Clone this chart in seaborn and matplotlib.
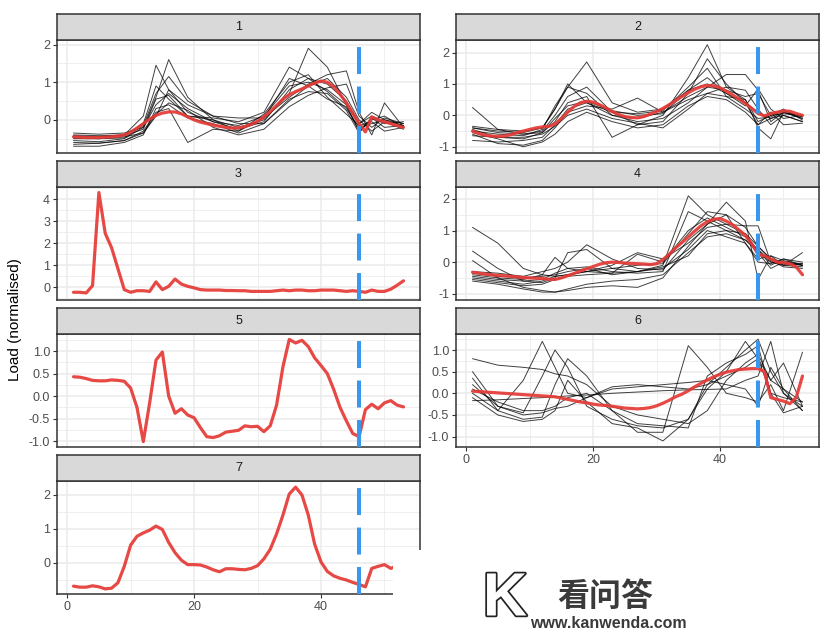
import numpy as np
import pandas as pd
import matplotlib.pyplot as plt
import matplotlib.patheffects as pe
from matplotlib.patches import Rectangle
import seaborn as sns

OUTPUT_FILE = "out.png"

# x positions: every day for the mean curves, sparser for the individual traces
X = list(range(1, 54))
X_TRACE = [1, 5, 9, 12, 14, 16, 19, 23, 27, 31, 35, 38, 41, 44, 46, 48, 50, 53]
CHANGE_X = 46

mean_1 = [-0.45, -0.46, -0.47, -0.47, -0.47, -0.46, -0.45, -0.43, -0.40, -0.33,
          -0.22, -0.10, 0.02, 0.12, 0.18, 0.21, 0.21, 0.16, 0.08, 0.00,
          -0.06, -0.10, -0.14, -0.17, -0.20, -0.22, -0.21, -0.18, -0.12, -0.04,
          0.08, 0.22, 0.38, 0.55, 0.67, 0.75, 0.82, 0.90, 0.98, 1.03,
          1.00, 0.88, 0.68, 0.45, 0.18, -0.10, -0.32, 0.08, 0.00, -0.05,
          -0.10, -0.15, -0.20]
mean_2 = [-0.50, -0.58, -0.63, -0.66, -0.67, -0.66, -0.62, -0.55, -0.50, -0.45,
          -0.40, -0.37, -0.35, -0.28, -0.10, 0.10, 0.28, 0.40, 0.45, 0.42,
          0.34, 0.24, 0.12, 0.03, -0.04, -0.07, -0.08, -0.04, 0.04, 0.12,
          0.22, 0.34, 0.47, 0.60, 0.72, 0.83, 0.91, 0.95, 0.94, 0.88,
          0.77, 0.65, 0.52, 0.38, 0.22, 0.06, -0.02, 0.06, 0.10, 0.14,
          0.13, 0.06, 0.00]
mean_3 = [-0.22, -0.22, -0.25, 0.08, 4.30, 2.45, 1.80, 0.85, -0.10, -0.22,
          -0.15, -0.15, -0.18, 0.25, -0.10, 0.05, 0.38, 0.15, 0.05, -0.02,
          -0.10, -0.12, -0.12, -0.12, -0.14, -0.14, -0.15, -0.15, -0.18, -0.18,
          -0.18, -0.18, -0.15, -0.12, -0.15, -0.12, -0.12, -0.15, -0.15, -0.12,
          -0.12, -0.12, -0.15, -0.18, -0.15, -0.18, -0.22, -0.12, -0.18, -0.18,
          -0.08, 0.10, 0.30]
mean_4 = [-0.32, -0.35, -0.38, -0.40, -0.42, -0.43, -0.45, -0.47, -0.49, -0.50,
          -0.51, -0.52, -0.54, -0.55, -0.50, -0.43, -0.36, -0.28, -0.21, -0.14,
          -0.07, -0.02, 0.00, -0.01, -0.03, -0.04, -0.05, -0.06, -0.08, -0.05,
          0.08, 0.25, 0.45, 0.62, 0.80, 0.98, 1.15, 1.28, 1.36, 1.38,
          1.30, 1.18, 1.02, 0.84, 0.58, 0.25, 0.20, 0.10, 0.00, -0.02,
          -0.05, -0.15, -0.40]
mean_5 = [0.43, 0.42, 0.39, 0.35, 0.34, 0.34, 0.36, 0.35, 0.33, 0.18,
          -0.25, -1.01, -0.15, 0.80, 0.98, 0.00, -0.38, -0.28, -0.42, -0.48,
          -0.70, -0.90, -0.92, -0.88, -0.80, -0.78, -0.76, -0.66, -0.68, -0.67,
          -0.79, -0.66, -0.20, 0.65, 1.26, 1.18, 1.24, 1.10, 0.85, 0.68,
          0.50, 0.15, -0.25, -0.55, -0.83, -0.90, -0.30, -0.18, -0.28, -0.15,
          -0.10, -0.20, -0.24]
mean_6 = [0.05, 0.04, 0.03, 0.02, 0.01, 0.00, -0.01, -0.02, -0.03, -0.04,
          -0.05, -0.06, -0.07, -0.08, -0.11, -0.14, -0.17, -0.20, -0.22, -0.25,
          -0.27, -0.28, -0.30, -0.32, -0.34, -0.35, -0.36, -0.35, -0.33, -0.29,
          -0.23, -0.16, -0.08, -0.02, 0.06, 0.15, 0.23, 0.31, 0.38, 0.44,
          0.49, 0.52, 0.55, 0.56, 0.57, 0.57, 0.50, -0.10, -0.14, -0.18,
          -0.24, -0.10, 0.40]
mean_7 = [-0.68, -0.71, -0.71, -0.67, -0.70, -0.76, -0.74, -0.58, -0.10, 0.52,
          0.78, 0.88, 0.96, 1.08, 0.98, 0.60, 0.30, 0.08, -0.05, -0.05,
          -0.06, -0.12, -0.20, -0.26, -0.17, -0.17, -0.19, -0.20, -0.16, -0.08,
          0.12, 0.40, 0.85, 1.40, 2.02, 2.22, 1.99, 1.40, 0.55, 0.03,
          -0.25, -0.38, -0.45, -0.50, -0.57, -0.63, -0.70, -0.16, -0.10, -0.05,
          -0.16, -0.08, -0.10]

traces_1 = [
    [-0.40, -0.42, -0.40, 0.10, 1.45, 0.80, 0.20, -0.05, -0.15, 0.10, 0.90, 1.00, 0.80, 0.40, -0.10, 0.10, -0.05, -0.15],
    [-0.55, -0.58, -0.50, -0.20, 0.60, 1.60, 0.60, 0.00, -0.20, 0.00, 0.70, 1.90, 1.40, 0.40, -0.30, 0.00, 0.10, -0.20],
    [-0.45, -0.45, -0.40, -0.10, 0.90, 0.55, 0.10, 0.05, -0.05, 0.20, 1.40, 1.10, 0.75, 0.30, -0.20, -0.10, 0.00, -0.10],
    [-0.70, -0.70, -0.60, -0.40, 0.30, 0.40, 0.05, -0.10, -0.35, -0.10, 0.50, 0.90, 1.10, 0.60, 0.00, -0.30, -0.05, -0.25],
    [-0.35, -0.38, -0.35, -0.20, 0.40, 0.70, 0.30, -0.05, -0.25, -0.05, 0.80, 1.10, 0.95, 0.50, -0.10, 0.20, 0.00, -0.15],
    [-0.60, -0.62, -0.55, -0.30, 0.20, 0.30, -0.60, -0.25, -0.30, 0.05, 0.60, 0.95, 1.20, 1.30, 0.20, -0.40, 0.45, -0.20],
    [-0.50, -0.50, -0.45, -0.35, 0.10, 0.80, 0.40, 0.10, -0.10, -0.10, 0.55, 0.75, 0.70, 0.25, -0.35, 0.05, -0.10, -0.05],
    [-0.42, -0.45, -0.42, -0.25, 0.55, 0.65, 0.10, 0.00, -0.30, 0.15, 1.00, 1.20, 0.60, 0.15, -0.15, -0.05, -0.30, -0.20],
    [-0.65, -0.62, -0.55, -0.35, 0.15, 0.45, 0.25, -0.20, -0.40, -0.25, 0.35, 0.65, 0.85, 0.95, 0.10, -0.20, 0.05, -0.10],
    [-0.48, -0.50, -0.48, -0.15, 0.70, 1.15, 0.50, 0.10, 0.05, 0.05, 1.10, 0.90, 0.55, 0.35, -0.30, 0.05, -0.20, -0.15],
]
traces_2 = [
    [0.25, -0.45, -0.50, -0.40, 0.20, 0.90, 1.70, 0.40, 0.10, 0.20, 0.80, 1.20, 0.70, 0.40, 0.10, -0.10, 0.10, -0.10],
    [-0.45, -0.70, -0.75, -0.55, -0.20, 0.40, 0.60, -0.70, -0.30, 0.00, 1.20, 2.25, 0.90, 0.50, -0.20, 0.00, 0.05, 0.00],
    [-0.60, -0.90, -0.95, -0.80, -0.40, 0.10, 0.30, 0.20, 0.55, 0.10, 0.60, 0.90, 1.30, 1.30, 0.80, -0.20, 0.10, -0.05],
    [-0.40, -0.55, -0.60, -0.50, 0.00, 0.60, 0.90, 0.10, -0.30, -0.20, 0.70, 1.80, 1.00, 0.40, -0.30, -0.10, 0.00, -0.20],
    [-0.80, -0.85, -0.80, -0.70, -0.30, 0.20, 0.40, 0.00, -0.10, 0.10, 0.50, 0.70, 0.60, 0.50, -0.40, -0.75, 0.10, -0.10],
    [-0.50, -0.60, -0.65, -0.45, 0.30, 0.90, 0.70, 0.00, -0.20, -0.10, 0.40, 0.90, 0.80, 0.60, 0.70, 0.00, 0.20, -0.15],
    [-0.35, -0.45, -0.60, -0.55, -0.10, 0.30, 0.45, 0.15, 0.00, 0.05, 0.80, 1.00, 0.70, 0.30, 0.85, 0.20, -0.10, 0.00],
    [-0.55, -0.75, -1.00, -0.85, -0.60, -0.20, 0.10, -0.20, -0.40, -0.30, 0.30, 0.60, 0.50, 0.10, -0.30, 0.10, -0.30, -0.25],
    [-0.40, -0.50, -0.55, -0.40, 0.20, 1.00, 0.40, 0.10, 0.05, 0.15, 0.90, 1.50, 0.60, 0.20, -0.10, -0.05, 0.15, -0.05],
    [-0.65, -0.70, -0.70, -0.60, -0.35, 0.00, 0.20, -0.10, -0.25, -0.40, 0.20, 0.70, 0.90, 0.80, 0.20, -0.30, 0.00, -0.20],
]
traces_4 = [
    [1.10, 0.60, -0.20, -0.40, -0.45, -0.40, -0.30, -0.20, -0.10, -0.05, 0.90, 1.60, 1.50, 1.10, 0.50, 0.10, 0.00, -0.10],
    [0.35, -0.20, -0.60, -0.65, -0.50, 0.30, 0.40, -0.20, -0.30, -0.10, 2.10, 1.50, 1.20, 0.90, 0.30, 0.00, -0.10, 0.30],
    [0.05, -0.50, -0.80, -0.90, -0.95, -0.90, -0.80, -0.75, -0.80, -0.50, 0.50, 1.20, 1.90, 1.30, -0.55, 0.20, -0.10, -0.05],
    [-0.40, -0.50, -0.55, -0.40, 0.15, -0.20, -0.30, -0.35, 0.25, 0.00, 1.00, 1.40, 1.10, 0.80, 0.40, -0.10, 0.10, 0.00],
    [-0.50, -0.60, -0.70, -0.60, -0.45, -0.40, -0.30, -0.10, 0.30, 0.10, 0.60, 1.10, 1.20, 1.15, 1.15, 0.00, -0.05, -0.10],
    [-0.35, -0.45, -0.50, -0.45, -0.40, -0.30, -0.20, -0.40, -0.30, -0.20, 0.40, 1.00, 0.80, 0.60, 0.10, 0.20, 0.05, -0.10],
    [-0.60, -0.70, -0.85, -0.95, -0.95, -0.85, -0.70, -0.60, -0.55, -0.40, 0.30, 0.80, 0.90, 0.70, 0.30, -0.20, 0.00, -0.05],
    [-0.45, -0.55, -0.60, -0.55, -0.35, -0.20, -0.15, -0.30, -0.35, -0.30, 1.60, 1.30, 1.00, 0.90, 0.50, 0.10, -0.10, -0.15],
    [-0.30, -0.35, -0.45, -0.30, -0.20, 0.00, 0.55, 0.10, -0.20, -0.25, 0.70, 1.20, 1.50, 0.60, 0.00, -0.05, 0.10, -0.10],
    [-0.55, -0.65, -0.75, -0.70, -0.55, -0.45, -0.40, -0.35, -0.30, -0.15, 0.20, 0.90, 1.00, 0.70, 0.40, 0.05, -0.15, -0.20],
]
traces_6 = [
    [0.80, 0.65, 0.60, 0.55, 0.45, 0.40, 0.20, -0.30, -0.50, -0.60, -0.70, -0.40, 0.30, 0.70, 0.90, 0.30, 0.10, -0.20],
    [0.50, -0.30, -0.45, 0.40, 1.00, 0.60, -0.30, -0.60, -0.75, -0.80, -0.60, 0.20, 0.60, 1.00, 1.25, 0.50, 0.00, -0.40],
    [0.35, -0.40, 0.30, 1.20, 0.60, 0.00, -0.10, 0.15, 0.20, 0.15, 0.10, 0.20, 0.40, 0.60, 0.80, 0.30, 0.70, -0.30],
    [-0.17, -0.15, -0.12, -0.10, -0.08, -0.06, -0.04, 0.00, 0.03, 0.06, 0.08, 0.09, 0.10, 0.30, 0.40, 1.20, 0.00, -0.30],
    [0.00, -0.40, -0.60, -0.55, 0.20, 0.80, 0.40, -0.40, -0.90, -0.90, 1.10, 0.60, 0.00, -0.10, -0.20, 0.20, -0.40, 0.95],
    [-0.10, -0.50, -0.65, -0.60, -0.40, 0.30, -0.20, -0.70, -0.80, -1.10, -0.60, 0.10, 0.50, 1.20, 0.80, 0.00, -0.45, -0.30],
    [0.20, -0.30, -0.50, -0.45, -0.35, -0.30, -0.10, 0.10, 0.15, 0.20, 0.25, 0.30, 0.20, 0.10, -0.30, 0.60, 0.10, -0.40],
    [0.10, -0.20, -0.40, -0.40, -0.30, -0.10, 0.00, -0.40, -0.70, -0.75, -0.80, 0.40, 0.70, 0.90, 1.10, 0.00, -0.10, -0.20],
]

means = {1: mean_1, 2: mean_2, 3: mean_3, 4: mean_4, 5: mean_5, 6: mean_6, 7: mean_7}
traces = {1: traces_1, 2: traces_2, 4: traces_4, 6: traces_6}

# layout (pixels, top-left origin) -- mimics the ggplot facet_wrap grid
W, H = 828, 636
COL_X = [57, 456]
PANEL_W = 363
ROW_TOP = [14, 161, 308, 455]
STRIP_H = 26
PLOT_H = 113

# panel -> (col, row, ylim, y breaks, label format)
panels = {
    1: (0, 0, (-0.88, 2.12), [0, 1, 2], "{:g}"),
    2: (1, 0, (-1.20, 2.40), [-1, 0, 1, 2], "{:g}"),
    3: (0, 1, (-0.57, 4.55), [0, 1, 2, 3, 4], "{:g}"),
    4: (1, 1, (-1.20, 2.38), [-1, 0, 1, 2], "{:g}"),
    5: (0, 2, (-1.13, 1.38), [-1, -0.5, 0, 0.5, 1], "{:.1f}"),
    6: (1, 2, (-1.24, 1.37), [-1, -0.5, 0, 0.5, 1], "{:.1f}"),
    7: (0, 3, (-0.91, 2.40), [0, 1, 2], "{:g}"),
}
bottom_panels = {6, 7}

RED = "#E53935"
BLUE = "#3A97EE"
BORDER = "#333333"
GRID = "#EBEBEB"


def main():
    sns.set_style("white")
    plt.rcParams["font.family"] = ["Liberation Sans", "Noto Sans CJK SC", "DejaVu Sans"]
    plt.rcParams["axes.unicode_minus"] = False

    fig = plt.figure(figsize=(W / 100, H / 100), dpi=100)

    for p, (col, row, ylim, ybreaks, fmt) in panels.items():
        x0 = COL_X[col]
        top = ROW_TOP[row]
        ax = fig.add_axes([x0 / W, 1 - (top + STRIP_H + PLOT_H) / H, PANEL_W / W, PLOT_H / H])
        strip = fig.add_axes([x0 / W, 1 - (top + STRIP_H) / H, PANEL_W / W, STRIP_H / H])

        # strip
        strip.set_facecolor("#D9D9D9")
        strip.set_xticks([])
        strip.set_yticks([])
        for s in strip.spines.values():
            s.set_color(BORDER)
            s.set_linewidth(1.1)
        strip.text(0.5, 0.5, str(p), ha="center", va="center", fontsize=9, color="#1A1A1A",
                   transform=strip.transAxes)

        # individual traces
        if p in traces:
            rows = []
            for i, tr in enumerate(traces[p]):
                for xv, yv in zip(X_TRACE, tr):
                    rows.append((i, xv, yv))
            df = pd.DataFrame(rows, columns=["trace", "x", "y"])
            sns.lineplot(data=df, x="x", y="y", units="trace", estimator=None,
                         color="black", linewidth=0.7, alpha=0.75, ax=ax)

        # mean curve
        sns.lineplot(x=X, y=means[p], color=RED, linewidth=2.3, alpha=0.92, ax=ax)

        ax.axvline(CHANGE_X, color=BLUE, linewidth=2.9, linestyle=(0, (6.7, 3.1)), zorder=5)

        # axes cosmetics, ggplot theme_bw style
        ax.set_xlim(-1.6, 55.6)
        ax.set_ylim(*ylim)
        step = ybreaks[1] - ybreaks[0]
        minor_y = [b - step / 2 for b in ybreaks] + [ybreaks[-1] + step / 2]
        minor_y = [m for m in minor_y if ylim[0] <= m <= ylim[1]]
        ax.set_yticks(ybreaks)
        ax.set_yticklabels([fmt.format(b) for b in ybreaks])
        ax.set_yticks(minor_y, minor=True)
        ax.set_xticks([0, 20, 40])
        ax.set_xticks([10, 30, 50], minor=True)
        ax.set_axisbelow(True)
        ax.grid(which="major", color=GRID, linewidth=1.1)
        ax.grid(which="minor", color=GRID, linewidth=0.55)
        ax.tick_params(which="major", length=3, width=0.8, color=BORDER, labelsize=9,
                       labelcolor="#4D4D4D", pad=2)
        ax.tick_params(which="minor", length=0)
        ax.tick_params(axis="x", bottom=True, left=False)
        ax.tick_params(axis="y", left=True)
        if p not in bottom_panels:
            ax.tick_params(axis="x", which="both", length=0, labelbottom=False)
        ax.set_xlabel("")
        ax.set_ylabel("")
        for s in ax.spines.values():
            s.set_color(BORDER)
            s.set_linewidth(1.1)

    fig.text(15 / W, 1 - 320 / H, "Load (normalised)", rotation=90, ha="center", va="center",
             fontsize=11, color="black")

    # watermark block in the lower right corner
    fig.add_artist(Rectangle((393 / W, 0), 1 - 393 / W, (H - 550) / H, transform=fig.transFigure,
                             facecolor="white", edgecolor="none", zorder=10))
    fig.text(505 / W, 1 - 600 / H, "K", fontsize=44, fontweight="bold", color="white",
             ha="center", va="center", zorder=11,
             path_effects=[pe.withStroke(linewidth=2.5, foreground="#222222")])
    fig.text(605 / W, 1 - 597 / H, "看问答", fontsize=23, fontweight="bold", color="#3A3A3A",
             ha="center", va="center", zorder=11,
             family=["Noto Sans CJK SC", "DejaVu Sans"])
    fig.text(608 / W, 1 - 624 / H, "www.kanwenda.com", fontsize=11.5, fontweight="bold",
             color="#3A3A3A", ha="center", va="center", zorder=11)

    fig.savefig(OUTPUT_FILE, dpi=100)


if __name__ == "__main__":
    main()
